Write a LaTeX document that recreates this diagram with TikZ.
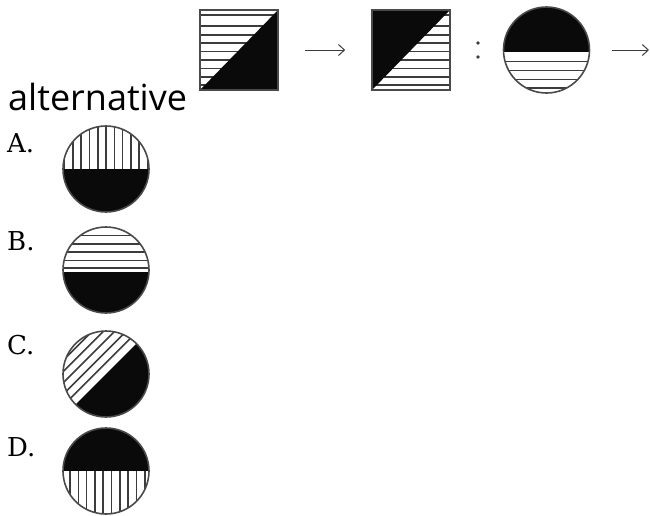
\documentclass[tikz,border=0pt]{standalone}
\usepackage{fontspec}
\usepackage{tikz}
\usetikzlibrary{arrows.meta}
\definecolor{ink}{HTML}{0A0A0A}
\definecolor{hat}{HTML}{3C3C3C}
\definecolor{rim}{HTML}{4A4A4A}
\newfontfamily\promptfont{Open Sans}
\newfontfamily\optfont{DejaVu Serif}

\begin{document}
\begin{tikzpicture}[x=1pt,y=-1pt,
		hatch/.style={hat,line width=1.6pt},
		rimline/.style={draw=rim,line width=1.6pt},
		sqbox/.style={rimline,minimum width=78pt,minimum height=80pt,inner sep=0pt},
		disc/.style={rimline,circle,minimum size=86pt,inner sep=0pt},
		arr/.style={draw=hat,line width=1pt,-{Straight Barb[length=6pt,width=11pt]}},
		optlabel/.style={anchor=base west,inner sep=0pt,font=\optfont\fontsize{26}{28}\selectfont}]
			\useasboundingbox (0,0) rectangle (650,515);

			% question row
			\begin{scope}
				\clip (200,10) rectangle (278,90);
				\foreach \y in {15,26,35,43,51.5,60,68.5,77,85} \draw[hatch] (200,\y) -- (278,\y);
				\fill[ink] (200,90) -- (278,10) -- (278,90) -- cycle;
			\end{scope}
			\node[sqbox] (first) at (239,50) {};

			\begin{scope}
				\clip (372,10) rectangle (450,90);
				\foreach \y in {15,26,35,43,51.5,60,68.5,77,85} \draw[hatch] (372,\y) -- (450,\y);
				\fill[ink] (372,10) -- (450,10) -- (372,90) -- cycle;
			\end{scope}
			\node[sqbox] (second) at (411,50) {};

			\fill[hat] (478,43) circle (1.8);
			\fill[hat] (478,57) circle (1.8);

			\begin{scope}
				\clip (546.5,50) circle (43);
				\fill[ink] (500,0) rectangle (595,52);
				\foreach \y in {61.5,70.5,79.5,88} \draw[hatch] (500,\y) -- (595,\y);
			\end{scope}
			\node[disc] (cue) at (546.5,50) {};
			\coordinate (edge) at (649,50);

			\draw[arr,shorten <=26pt,shorten >=26pt] (first) -- (second);
			\draw[arr,shorten <=22pt] (cue) -- (edge);

			\node[anchor=base west,inner sep=0pt,font=\promptfont\fontsize{36}{40}\selectfont] (prompt) at (8,110) {alternative};

			% options
			\begin{scope}
				\clip (106,169) circle (43);
				\fill[ink] (60,169) rectangle (152,215);
				\foreach \i in {-5,...,5} \draw[hatch] (106+8.3*\i,120) -- (106+8.3*\i,169);
			\end{scope}
			\node[disc] (optA) at (106,169) {};

			\begin{scope}
				\clip (106,270) circle (43);
				\fill[ink] (60,272) rectangle (152,315);
				\foreach \y in {235.5,244,252,260.5,268} \draw[hatch] (60,\y) -- (152,\y);
			\end{scope}
			\node[disc] (optB) at (106,270) {};

			\begin{scope}[shift={(106,374)},rotate=45]
				\clip (0,0) circle (43);
				\fill[ink] (-50,0) rectangle (50,50);
				\foreach \d in {8,16,24,32,40} \draw[hatch] (-50,-\d) -- (50,-\d);
			\end{scope}
			\node[disc] (optC) at (106,374) {};

			\begin{scope}
				\clip (106,471) circle (43);
				\fill[ink] (60,425) rectangle (152,471);
				\foreach \k in {0,...,9} \draw[hatch] (70+8.3*\k,471) -- (70+8.3*\k,520);
			\end{scope}
			\node[disc] (optD) at (106,471) {};

			\node[optlabel] (labA) at (7,152) {A.};
			\node[optlabel] (labB) at (7,250) {B.};
			\node[optlabel] (labC) at (7,354) {C.};
			\node[optlabel] (labD) at (7,456) {D.};
		\end{tikzpicture}
\end{document}
